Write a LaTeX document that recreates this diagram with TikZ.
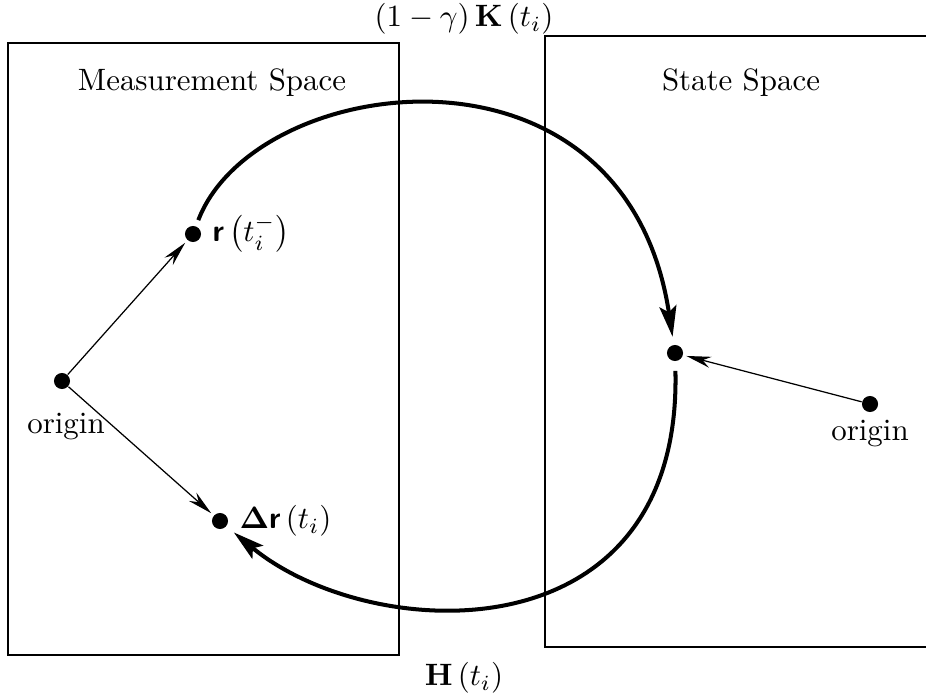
\documentclass[tikz,border=0pt]{standalone}
\usepackage{bm}
\usetikzlibrary{arrows.meta, positioning}

\begin{document}
\begin{tikzpicture}[
  x=0.3235pt, y=-0.3235pt,
  dot/.style={circle, fill=black, inner sep=0pt, minimum size=5.2pt},
  space/.style={draw=black, thin},
  vec/.style={-{Stealth[length=8pt, width=3.6pt]}, thin, shorten >=1pt},
  flow/.style={-{Stealth[length=10pt, width=5.5pt, inset=2pt]}, line width=1.3pt}
]
\useasboundingbox (0,0) rectangle (926,698);

% The two spaces
\draw[space] (8,43) rectangle (399,655);
\draw[space] (926,36) -- (545,36) -- (545,647) -- (926,647);
\node (mlabel) at (212,83) {Measurement Space};
\node (slabel) at (741,83) {State Space};

% Points in measurement space
\node[dot] (o1) at (62,381) {};
\node[below=4pt of o1, xshift=1.3pt] (o1lbl) {origin};
\node[dot] (r) at (193,234) {};
\node[right=0pt of r] (rlbl) {$\textsf{\textbf{r}}\left(t_i^-\right)$};
\node[dot] (dr) at (220,521) {};
\node[right=0pt of dr] (drlbl) {$\bm{\Delta}\textsf{\textbf{r}}\left(t_i\right)$};

% Points in state space
\node[dot] (s) at (675,353) {};
\node[dot] (o2) at (870,404) {};
\node[below=-1pt of o2] (o2lbl) {origin};

% Vectors from the origins
\draw[vec] (o1) -- (r);
\draw[vec] (o1) -- (dr);
\draw[vec] (o2) -- (s);

% Mappings between the spaces
\draw[flow, shorten <=2pt, shorten >=2.5pt] (r) .. controls (255,72) and (625,22) .. (s);
\draw[flow, shorten <=3pt, shorten >=3pt] (s) .. controls (682,660) and (370,645) .. (dr);
\node (klbl) at (464,19) {$\left(1-\gamma\right)\mathbf{K}\left(t_i\right)$};
\node (hlbl) at (464,678) {$\mathbf{H}\left(t_i\right)$};

\end{tikzpicture}
\end{document}
